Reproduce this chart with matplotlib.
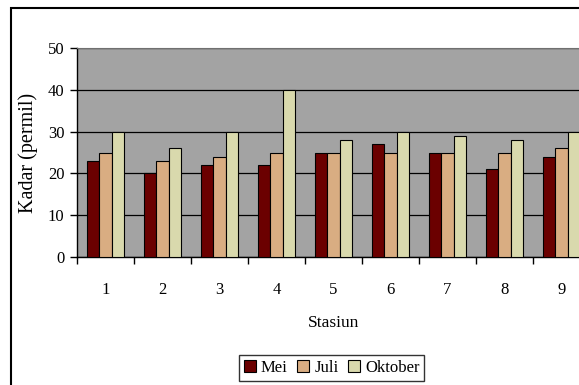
import numpy as np
import matplotlib
import matplotlib.pyplot as plt
from matplotlib.patches import Rectangle
matplotlib.use('Agg')

plt.rcParams['font.family'] = ['Liberation Serif', 'DejaVu Serif']

stasiun = ['1', '2', '3', '4', '5', '6', '7', '8', '9']
mei = [23, 20, 22, 22, 25, 27, 25, 21, 24]
juli = [25, 23, 24, 25, 25, 25, 25, 25, 26]
oktober = [30, 26, 30, 40, 28, 30, 29, 28, 30]

series = [('Mei', mei, '#6b0000'),
          ('Juli', juli, '#d9ad82'),
          ('Oktober', oktober, '#d9d9ad')]

fig = plt.figure(figsize=(5.79, 3.85), dpi=100)
fig.patch.set_facecolor('white')

# axes run past the right edge of the figure
ax = fig.add_axes([0.133, 0.3325, 0.886, 0.5425])
ax.set_facecolor('#a3a3a3')

x = np.arange(len(stasiun))
w = 0.22
for i, (name, vals, col) in enumerate(series):
    ax.bar(x + (i - 1) * w, vals, w, color=col, edgecolor='black',
           linewidth=0.8, label=name, zorder=3)

ax.set_xlim(-0.5, len(stasiun) - 0.5)
ax.set_ylim(0, 50)
ax.set_yticks(range(0, 51, 10))
ax.yaxis.grid(True, color='black', linewidth=0.9, zorder=1)
ax.set_axisbelow(True)

ax.set_xticks(np.arange(len(stasiun) + 1) - 0.5)
ax.set_xticklabels([])
ax.set_xticks(x, minor=True)
ax.set_xticklabels(stasiun, minor=True)
ax.tick_params(axis='x', which='major', direction='out', length=5, width=1)
ax.tick_params(axis='x', which='minor', length=0, pad=18, labelsize=12)
ax.tick_params(axis='y', direction='out', length=5, width=1, labelsize=12, pad=4)

for s in ['top', 'right']:
    ax.spines[s].set_color('#707070')
for s in ['left', 'bottom']:
    ax.spines[s].set_color('black')
    ax.spines[s].set_linewidth(1)

ax.set_xlabel('Stasiun', fontsize=12.5, labelpad=12)
ax.set_ylabel('Kadar (permil)', fontsize=14.5, labelpad=7)

leg = fig.legend(loc='upper center', bbox_to_anchor=(0.573, 0.078), ncol=3,
                 fontsize=12, frameon=True, fancybox=False, edgecolor='black',
                 handlelength=0.7, handleheight=0.7, handletextpad=0.3,
                 columnspacing=0.6, borderpad=0.3, borderaxespad=0)
leg.get_frame().set_linewidth(1)

# chart area border
fig.patches.append(Rectangle((11 / 579, -0.2), 2, 1.2 - 8 / 385,
                             transform=fig.transFigure, fill=False,
                             edgecolor='black', linewidth=1.5))

fig.savefig('out.png', dpi=100)
